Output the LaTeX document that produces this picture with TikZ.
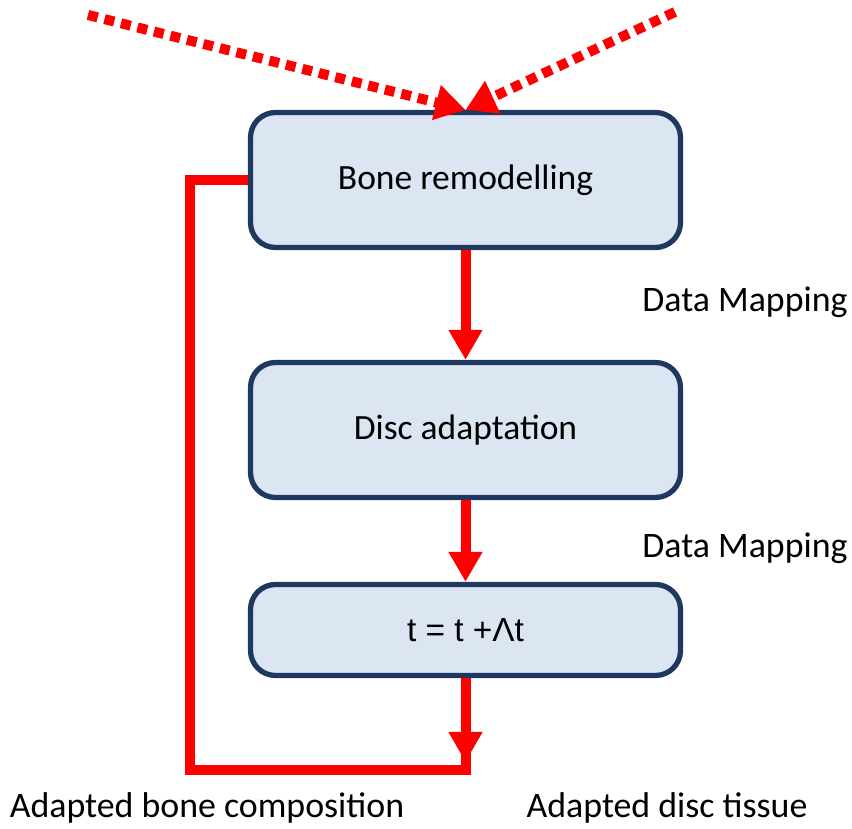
\documentclass[tikz,border=0pt]{standalone}
\usepackage{fontspec}
\setmainfont{Carlito}
\newfontfamily\arialfont{Liberation Sans}
\usetikzlibrary{arrows.meta,calc,positioning}
\definecolor{boxfill}{RGB}{220,230,242}
\definecolor{boxline}{RGB}{31,56,96}
\tikzset{
	stage/.style={draw=boxline, fill=boxfill, line width=1.5pt, rounded corners=0.25cm, minimum width=4.3cm, font=\fontsize{10.1}{12}\selectfont},
	flow/.style={line width=0.1cm, color=red, -{Triangle[width=0.32cm,length=0.3cm]}},
	loopline/.style={line width=0.1cm, color=red},
	input/.style={line width=0.1cm, color=red, dash pattern=on 0.1cm off 0.07cm, -{Triangle[width=0.34cm,length=0.3cm]}},
	caption/.style={font=\fontsize{10.2}{12}\selectfont}
}
\begin{document}
\begin{tikzpicture}
		%%%%% START %%%%%
		\useasboundingbox (0, 0) rectangle (8.52, 8.29);
		
		\node[stage, minimum height=1.35cm] (bone) at (4.655, 6.49) {Bone remodelling};
		\node[stage, minimum height=1.35cm] (disc) at (4.655, 3.99) {Disc adaptation};
		\node[stage, minimum height=0.91cm, font=\arialfont\fontsize{9.5}{11}\selectfont] (step) at (4.655, 1.99) {t = t +Λt};
		
		\node[caption] (map1) at (7.45, 5.27) {Data Mapping};
		\node[caption] (map2) at (7.45, 2.81) {Data Mapping};
		\node[caption] (outbone) at (2.07, 0.21) {Adapted bone composition};
		\node[caption] (outdisc) at (6.67, 0.21) {Adapted disc tissue};
		
		\coordinate (inleft) at (0.88, 8.14);
		\coordinate (inright) at (6.75, 8.17);
		\draw[input] (inleft) -- (bone.north);
		\draw[input] (inright) -- (bone.north);
		
		\draw[flow] (bone.south) -- (disc.north);
		\draw[flow] (disc.south) -- (step.north);
		
		\coordinate (feedback) at (4.655, 0.59);
		\draw[loopline] (step.south) -- (feedback) -| (1.9, 3) |- (bone.west);
		\draw[flow] (step.south) -- ($(feedback)+(0, 0.08)$);
		
		%%%%% END %%%%%
	\end{tikzpicture}
\end{document}
